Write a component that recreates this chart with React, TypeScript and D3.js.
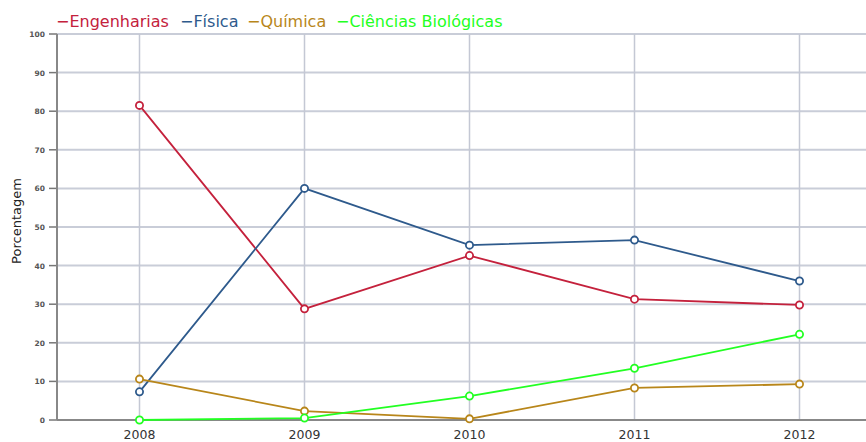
import React from "react";
import * as d3 from "d3";

const years = ["2008", "2009", "2010", "2011", "2012"];
const seriesNames = ["Engenharias", "Física", "Química", "Ciências Biológicas"];
const engenharias = [81.5, 28.8, 42.6, 31.3, 29.8];
const fisica = [7.3, 60.0, 45.3, 46.6, 36.0];
const quimica = [10.6, 2.3, 0.3, 8.3, 9.3];
const biologicas = [0, 0.5, 6.2, 13.4, 22.2];
const yTicks = [0, 10, 20, 30, 40, 50, 60, 70, 80, 90, 100];
const colors = ["#c4213c", "#2e5a8c", "#b8861a", "#22ff22"];

export default function App() {
  const W = 866, H = 442;
  const left = 57, top = 34, bottom = 420;
  const step = 165;
  const x = d3.scalePoint<string>().domain(years).range([left + step / 2, left + step * 4.5]);
  const y = d3.scaleLinear().domain([0, 100]).range([bottom, top]);
  const all = [engenharias, fisica, quimica, biologicas];
  const line = d3.line<number>().x((_, i) => x(years[i])!).y((v) => y(v));

  const legendX = [56, 180, 247, 336];

  return (
    <svg width={W} height={H} style={{ position: "absolute", left: 0, top: 0, background: "#fff" }} fontFamily="Verdana, 'DejaVu Sans', sans-serif">
      {yTicks.map((t) => (
        <g key={t}>
          <line x1={left} x2={W} y1={y(t)} y2={y(t)} stroke="#c9cdd8" strokeWidth={2} />
          <line x1={left - 8} x2={left} y1={y(t)} y2={y(t)} stroke="#777" strokeWidth={1.5} />
          <text x={left - 12} y={y(t) + 3} fontSize={7.5} fontWeight="bold" fill="#555" textAnchor="end">{t}</text>
        </g>
      ))}
      {years.map((yr) => (
        <g key={yr}>
          <line x1={x(yr)} x2={x(yr)} y1={top} y2={bottom} stroke="#c4c8d4" strokeWidth={1.5} />
          <text x={x(yr)} y={439} fontSize={12.5} fill="#333" textAnchor="middle">{yr}</text>
        </g>
      ))}
      <line x1={left} x2={left} y1={top} y2={bottom} stroke="#888" strokeWidth={2} />
      <line x1={left} x2={W} y1={bottom} y2={bottom} stroke="#888" strokeWidth={2} />
      <text transform={`translate(21,${221}) rotate(-90)`} fontSize={13} fill="#222" textAnchor="middle">Porcentagem</text>
      {all.map((s, k) => (
        <g key={k}>
          <path d={line(s)!} fill="none" stroke={colors[k]} strokeWidth={1.8} />
          {s.map((v, i) => (
            <circle key={i} cx={x(years[i])} cy={y(v)} r={3.6} fill="#fff" stroke={colors[k]} strokeWidth={1.8} />
          ))}
        </g>
      ))}
      {seriesNames.map((n, k) => (
        <text key={n} x={legendX[k]} y={27} fontSize={16} fill={colors[k]}>{"−" + n}</text>
      ))}
    </svg>
  );
}
